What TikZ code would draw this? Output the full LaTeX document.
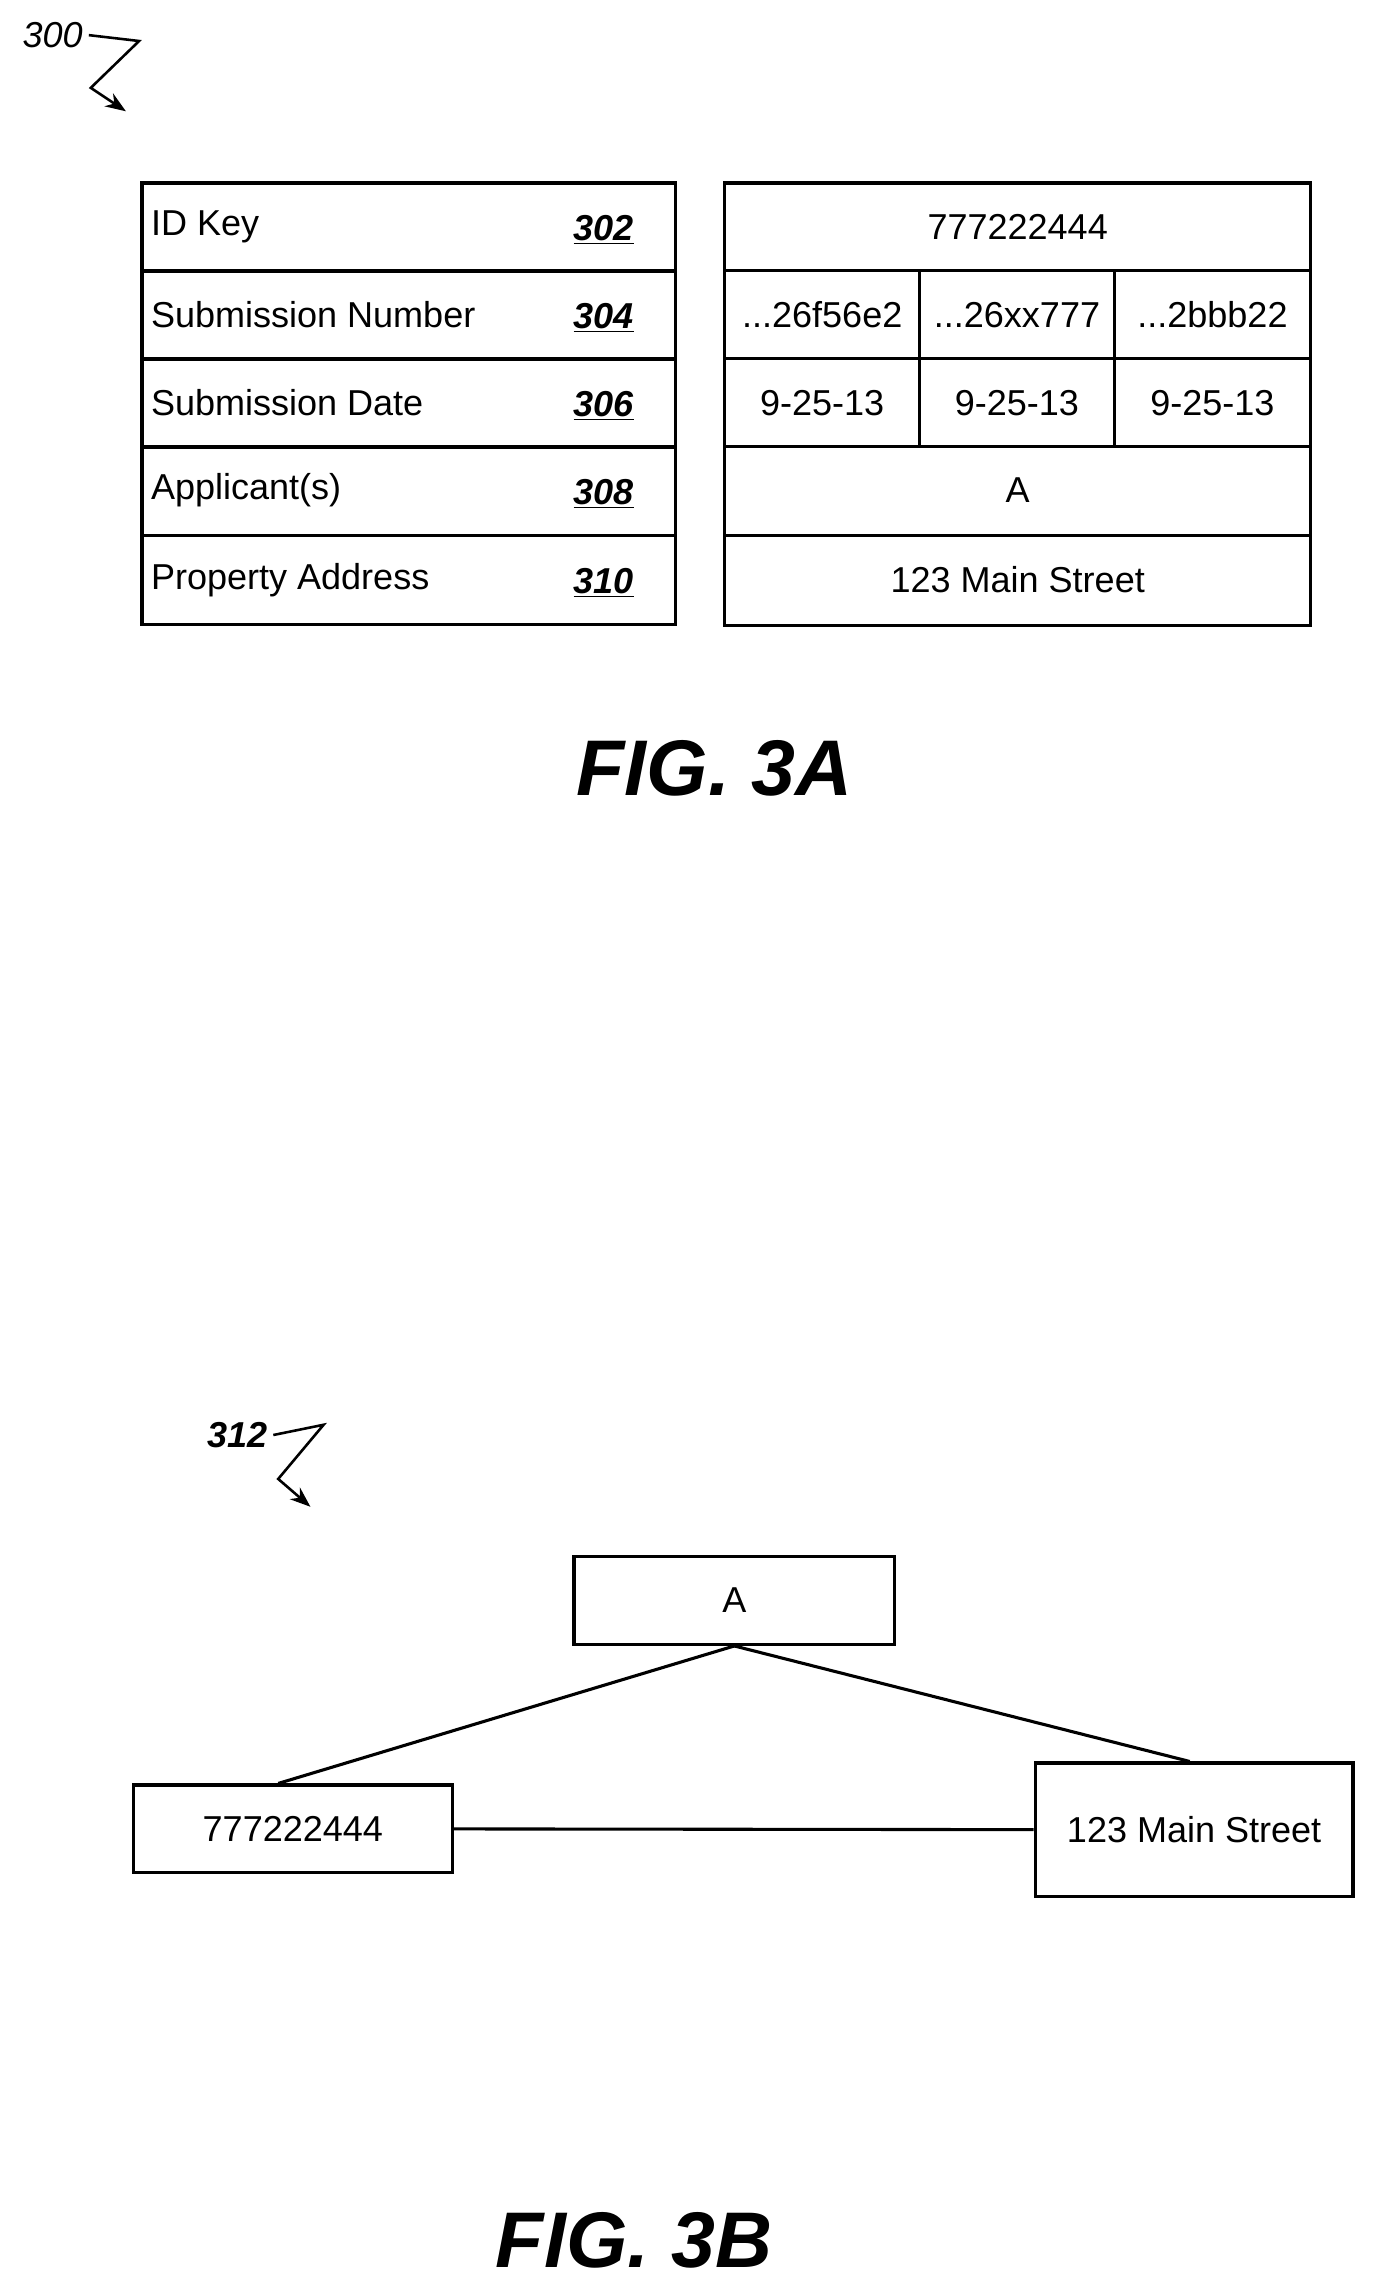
\documentclass[tikz,border=0pt]{standalone}
\usepackage{fontspec}
\setmainfont{Liberation Sans}
\usetikzlibrary{arrows.meta}
\newcommand{\trip}{...}
\begin{document}
\begin{tikzpicture}[
    x = 0.03cm, y = -0.03cm,
    every node/.style = {font = \fontsize{21}{25}\selectfont},
    cell/.style = {draw, line width = 1.8pt},
    refnum/.style = {font = \fontsize{21}{25}\selectfont\bfseries\itshape, anchor = east},
    rowtext/.style = {anchor = west},
    leader/.style = {line width = 1.5pt, -{Stealth[length = 12pt, width = 9pt]}},
    figlabel/.style = {font = \fontsize{46}{50}\selectfont\bfseries\itshape}
]
\useasboundingbox (0,0) rectangle (940,1568);
% reference numeral 300
\node (n300) at (36,24) {\itshape 300};
\coordinate (z1) at (95,28);
\coordinate (z2) at (62,60);
\coordinate (z3) at (86,76);
\draw[leader] (n300.east) -- (z1) -- (z2) -- (z3);
% left table
\foreach \r/\txt/\num [count = \i from 0] in {125/ID Key/302, 185/Submission Number/304, 245/Submission Date/306, 305/Applicant(s)/308, 366/Property Address/310} {
    \draw[cell] (97,\r) rectangle (461,\r+60.4);
    \node[rowtext] (lab\num) at (99,\r+30) {\txt};
    \node[refnum] (num\num) at (437,\r+32) {\underline{\num}};
}
% right table
\draw[cell] (495,125) rectangle (895,185);
\node (idkey) at (695,155) {777222444};
\foreach \a/\b/\s/\d [count = \i] in {495/628/{\trip{}26f56e2}/9-25-13, 628/761/{\trip{}26xx777}/9-25-13, 761/895/{\trip{}2bbb22}/9-25-13} {
    \draw[cell] (\a,185) rectangle (\b,245);
    \draw[cell] (\a,245) rectangle (\b,305);
    \node (sub\i) at ({(\a+\b)/2},215) {\s};
    \node (date\i) at ({(\a+\b)/2},275) {\d};
}
\draw[cell] (495,305) rectangle (895,366);
\node (appl) at (695,335) {A};
\draw[cell] (495,366) rectangle (895,427);
\node (addr) at (695,396) {123 Main Street};
\node[figlabel] (fig3a) at (488,525) {FIG. 3A};
% reference numeral 312
\node (n312) at (162,980) {\bfseries\itshape 312};
\coordinate (w1) at (221,973);
\coordinate (w2) at (190,1010);
\coordinate (w3) at (212,1029);
\draw[leader] (n312.east) -- (w1) -- (w2) -- (w3);
% graph
\node[cell, minimum width = 219*0.03cm, minimum height = 60*0.03cm] (bA) at (501.5,1093) {A};
\node[cell, minimum width = 218*0.03cm, minimum height = 60*0.03cm] (bId) at (200,1249) {777222444};
\node[cell, minimum width = 217*0.03cm, minimum height = 91*0.03cm] (bAddr) at (815.5,1249.5) {123 Main Street};
\draw[line width = 1.8pt] (bA.south) -- ([xshift = -10*0.03cm]bId.north);
\draw[line width = 1.8pt] (bA.south) -- ([xshift = -3*0.03cm]bAddr.north);
\draw[line width = 1.8pt] (bId.east) -- (bAddr.west);
\node[figlabel] (fig3b) at (433,1530) {FIG. 3B};
\end{tikzpicture}
\end{document}
